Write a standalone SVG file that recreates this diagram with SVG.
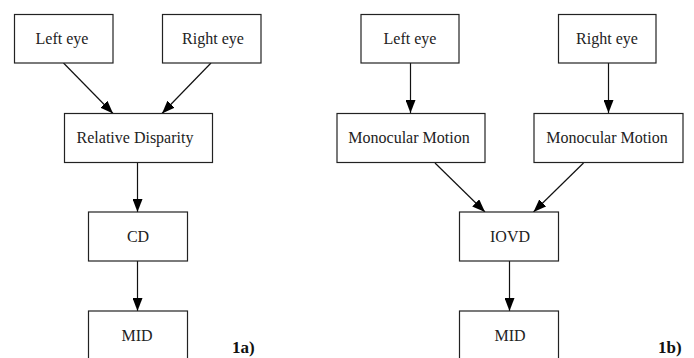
<svg xmlns="http://www.w3.org/2000/svg" width="694" height="358" viewBox="0 0 694 358">
<style>
.box{fill:#fff;stroke:#222;stroke-width:1.2}
.lbl{font-size:16px;fill:#222;text-anchor:middle}
.tag{font-size:17px;font-weight:bold;fill:#111}
.edge{stroke:#111;stroke-width:1.2;fill:none;marker-end:url(#ah)}
</style>
<defs>
<marker id="ah" markerUnits="userSpaceOnUse" markerWidth="13" markerHeight="10" refX="13" refY="5" orient="auto">
<path d="M0,0 L13,5 L0,10 z" fill="#000"/>
</marker>
</defs>
<rect width="694" height="358" fill="#fff"/>
<g id="connectors">
<line class="edge" x1="63.5" y1="63" x2="113" y2="113.5"/>
<line class="edge" x1="211" y1="63" x2="162" y2="113.5"/>
<line class="edge" x1="137.5" y1="163" x2="137.5" y2="212"/>
<line class="edge" x1="137.5" y1="261" x2="137.5" y2="311"/>
<line class="edge" x1="410.5" y1="63" x2="410.5" y2="113"/>
<line class="edge" x1="608.5" y1="63" x2="608.5" y2="113"/>
<line class="edge" x1="435" y1="163" x2="485" y2="212"/>
<line class="edge" x1="583.5" y1="163" x2="533.5" y2="212"/>
<line class="edge" x1="509.5" y1="261" x2="509.5" y2="311"/>
</g>
<g font-family="'Times New Roman', 'Liberation Serif', 'DejaVu Serif', Times, serif">
<g id="a_left_eye"><rect class="box" x="14.5" y="14.5" width="98.5" height="48.5"/><text class="lbl" x="62" y="43.5">Left eye</text></g>
<g id="a_right_eye"><rect class="box" x="162.5" y="14.5" width="98.5" height="48.5"/><text class="lbl" x="213" y="43.5">Right eye</text></g>
<g id="a_rel_disp"><rect class="box" x="64.5" y="113.5" width="148" height="49"/><text class="lbl" x="135" y="142.5">Relative Disparity</text></g>
<g id="a_cd"><rect class="box" x="88.5" y="212" width="99" height="49"/><text class="lbl" x="138" y="241.5">CD</text></g>
<g id="a_mid"><rect class="box" x="88.5" y="311" width="99" height="49"/><text class="lbl" x="137" y="340.5">MID</text></g>
<text class="tag" x="232" y="353">1a)</text>
<g id="b_left_eye"><rect class="box" x="361" y="14.5" width="98" height="48.5"/><text class="lbl" x="410" y="43.5">Left eye</text></g>
<g id="b_right_eye"><rect class="box" x="558.5" y="14.5" width="97.5" height="48.5"/><text class="lbl" x="607" y="43.5">Right eye</text></g>
<g id="b_mono_left"><rect class="box" x="337" y="113.5" width="148" height="49"/><text class="lbl" x="409" y="142.5">Monocular Motion</text></g>
<g id="b_mono_right"><rect class="box" x="534" y="113.5" width="149" height="49"/><text class="lbl" x="607" y="142.5">Monocular Motion</text></g>
<g id="b_iovd"><rect class="box" x="459.5" y="212" width="99" height="49"/><text class="lbl" x="510" y="241.5">IOVD</text></g>
<g id="b_mid"><rect class="box" x="459.5" y="311" width="99" height="49"/><text class="lbl" x="510" y="340.5">MID</text></g>
<text class="tag" x="658" y="353">1b)</text>
</g>
</svg>
